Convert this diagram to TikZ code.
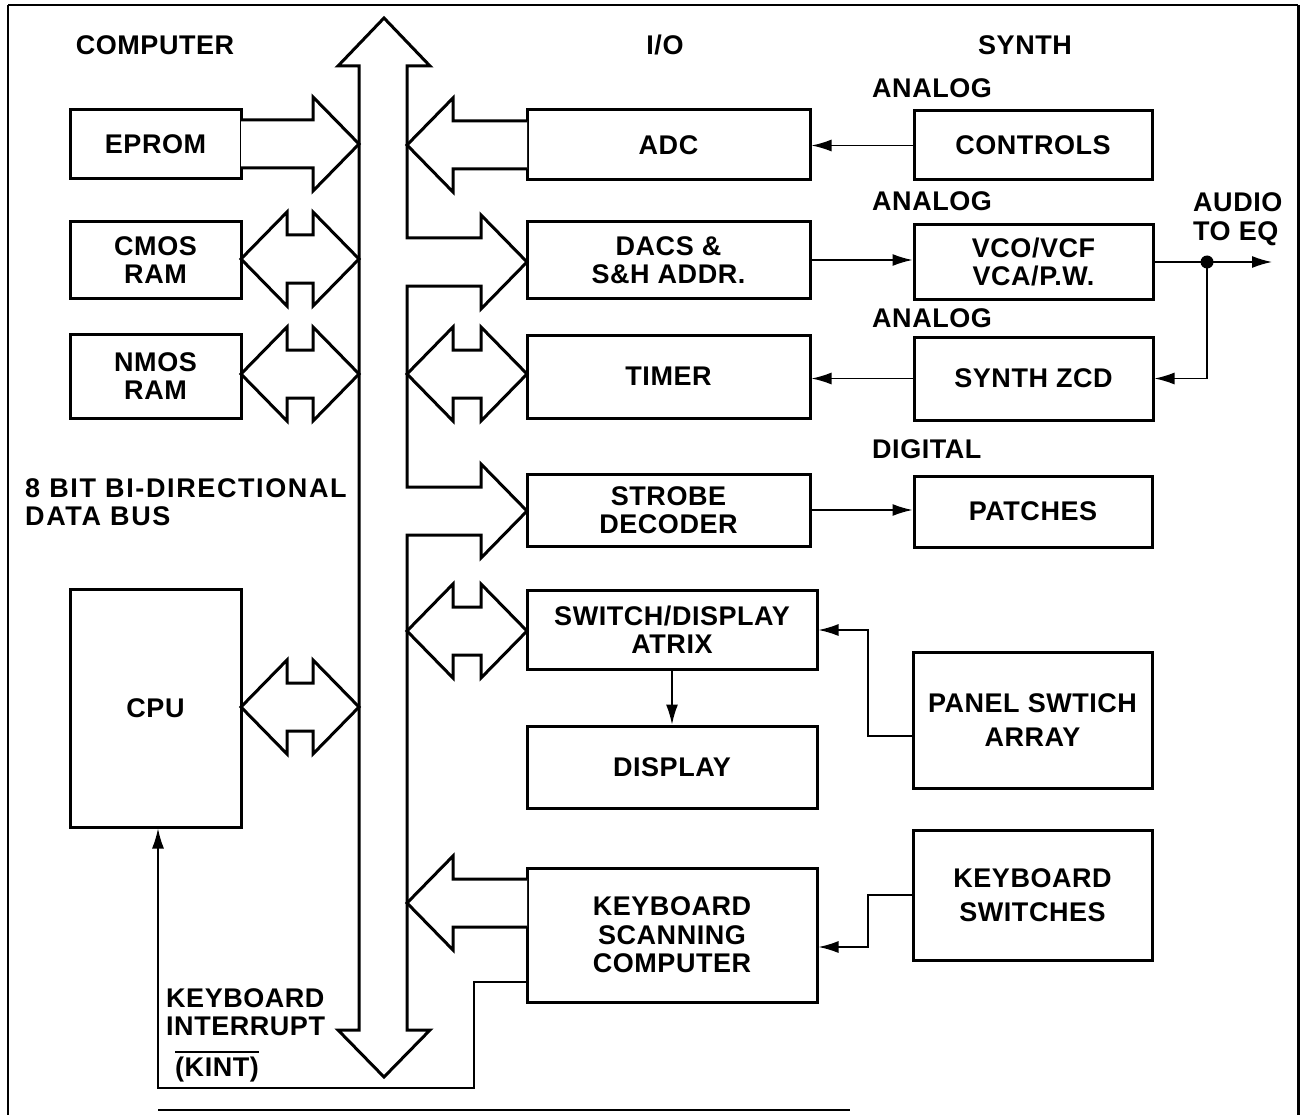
\documentclass[tikz,border=0pt]{standalone}
\usepackage{fontspec}
\setmainfont[LetterSpace=2]{Liberation Sans}
\usetikzlibrary{arrows.meta}
\newcommand\dfont{\fontsize{27}{28.5}\selectfont\bfseries}
\tikzset{
  box/.style={draw, line width=3pt, inner sep=0pt, align=center, font=\dfont},
  lbl/.style={inner sep=0pt, align=left, font=\dfont},
  conn/.style={line width=1.5pt, -{Latex[length=20pt,width=12pt]}},
  wire/.style={line width=1.5pt},
  fat/.style={line width=3pt, line join=miter, fill=white},
  frame/.style={line width=2pt},
}
\newcommand\bx[6]{\pgfmathsetmacro\bxw{#4-#2}\pgfmathsetmacro\bxh{#5-#3}%
  \node[box, minimum width=\bxw pt, minimum height=\bxh pt] (#1) at ({(#2+#4)/2},{(#3+#5)/2}) {#6};}
% right-pointing fat arrow: tail x, tip x, centre y
\newcommand\rarrow[3]{\draw[fat] (#1,#3-24) -- (#2-46,#3-24) -- (#2-46,#3-47) -- (#2,#3) -- (#2-46,#3+47) -- (#2-46,#3+24) -- (#1,#3+24);}
% left-pointing fat arrow: tail x, tip x, centre y
\newcommand\larrow[3]{\draw[fat] (#1,#3-24) -- (#2+46,#3-24) -- (#2+46,#3-47) -- (#2,#3) -- (#2+46,#3+47) -- (#2+46,#3+24) -- (#1,#3+24);}
% double fat arrow: left tip x, right tip x, centre y
\newcommand\dblarrow[3]{\draw[fat] (#1,#3) -- (#1+46,#3-47) -- (#1+46,#3-24) -- (#2-46,#3-24) -- (#2-46,#3-47) -- (#2,#3) -- (#2-46,#3+47) -- (#2-46,#3+24) -- (#1+46,#3+24) -- (#1+46,#3+47) -- cycle;}
\begin{document}
\begin{tikzpicture}[x=1pt,y=-1pt]
\useasboundingbox[fill=white] (0,0) rectangle (1303,1115);
% frame
\draw[line width=1.5pt] (8,1115) -- (8,5);
\draw[frame] (8,5) -- (1298,5);
\draw[line width=3pt] (1298,5) -- (1298,1115);
\draw[frame] (158,1110) -- (850,1110);

% headings
\node[lbl] (hcomp) at (155,45) {COMPUTER};
\node[lbl] (hio) at (665,45) {I/O};
\node[lbl] (hsynth) at (1025,45) {SYNTH};
\node[lbl, anchor=west] (an1) at (872,88) {ANALOG};
\node[lbl, anchor=west] (an2) at (872,201) {ANALOG};
\node[lbl, anchor=west] (an3) at (872,318) {ANALOG};
\node[lbl, anchor=west] (dig) at (872,449) {DIGITAL};
\node[lbl, anchor=west] (audio) at (1193,219) {AUDIO\\TO EQ};
\node[lbl, anchor=west, font=\dfont\addfontfeatures{LetterSpace=6}] (busl) at (25,502) {8 BIT BI-DIRECTIONAL\\DATA BUS};
\node[lbl, anchor=north west] (kint) at (166,988) {KEYBOARD\\INTERRUPT};
\node[lbl, anchor=west] (kt) at (175,1070) {(KINT)};
\draw[line width=2.5pt] ([yshift=5pt]kt.north west) -- ([yshift=5pt]kt.north east);

% data bus
\draw[fat] (359,1030) -- (359,66) -- (338,66) -- (384,18) -- (430,66) -- (407,66)
  -- (407,238) -- (481,238) -- (481,215) -- (527,262) -- (481,309) -- (481,286) -- (407,286)
  -- (407,487) -- (481,487) -- (481,464) -- (527,511) -- (481,558) -- (481,535) -- (407,535)
  -- (407,1030) -- (430,1030) -- (384,1077) -- (338,1030) -- cycle;

% computer boxes
\bx{eprom}{70}{110}{241}{179}{EPROM}
\bx{cmos}{70}{222}{241}{298}{CMOS\\RAM}
\bx{nmos}{70}{334}{241}{418}{NMOS\\RAM}
\bx{cpu}{70}{589}{241}{827}{CPU}
% I/O boxes
\bx{adc}{527}{110}{810}{180}{ADC}
\bx{dacs}{527}{222}{810}{298}{DACS \&\\S\&H ADDR.}
\bx{timer}{527}{335}{810}{418}{TIMER}
\bx{strobe}{527}{474}{810}{546}{STROBE\\DECODER}
\bx{sw}{527}{590}{817}{669}{SWITCH/DISPLAY\\ATRIX}
\bx{display}{527}{726}{817}{808}{DISPLAY}
\bx{kbd}{527}{868}{817}{1002}{KEYBOARD\\SCANNING\\COMPUTER}
% synth boxes
\bx{controls}{914}{111}{1152}{180}{CONTROLS}
\bx{vco}{914}{225}{1153}{299}{VCO/VCF\\VCA/P.W.}
\bx{zcd}{914}{337}{1153}{420}{SYNTH ZCD}
\bx{patches}{914}{476}{1152}{547}{PATCHES}
\bx{panel}{913}{652}{1152}{788}{PANEL SWTICH\\[6pt]ARRAY}
\bx{kbsw}{913}{830}{1152}{960}{KEYBOARD\\[5pt]SWITCHES}

% fat arrows to/from the bus
\rarrow{241}{359}{144}
\dblarrow{241}{359}{259}
\dblarrow{241}{359}{374}
\dblarrow{241}{359}{707}
\larrow{527}{407}{145}
\dblarrow{407}{527}{374}
\dblarrow{407}{527}{631}
\larrow{527}{407}{903}

% thin connectors
\draw[conn] (controls.west) -- (controls.west -| adc.east);
\draw[conn] (dacs.east) -- (dacs.east -| vco.west);
\coordinate (j) at (1207,262);
\coordinate (aout) at (1272,262);
\draw[conn] (vco.east) -- (aout);
\fill (j) circle (6.5);
\draw[conn] (j) |- (zcd.east);
\draw[conn] (zcd.west) -- (zcd.west -| timer.east);
\draw[conn] (strobe.east) -- (strobe.east -| patches.west);
\draw[conn] (sw.south) -- (display.north);
\coordinate (p1) at (868,630);
\draw[conn] ([yshift=-16pt]panel.west) -| (p1) -- (p1 -| sw.east);
\coordinate (k1) at (868,947);
\draw[conn] (kbsw.west) -| (k1) -- (k1 -| kbd.east);
\coordinate (i1) at (474,982);
\coordinate (i2) at (158,1088);
\draw[conn] (i1 -| kbd.west) -- (i1) |- (i2) -- (i2 |- cpu.south);
\end{tikzpicture}
\end{document}
